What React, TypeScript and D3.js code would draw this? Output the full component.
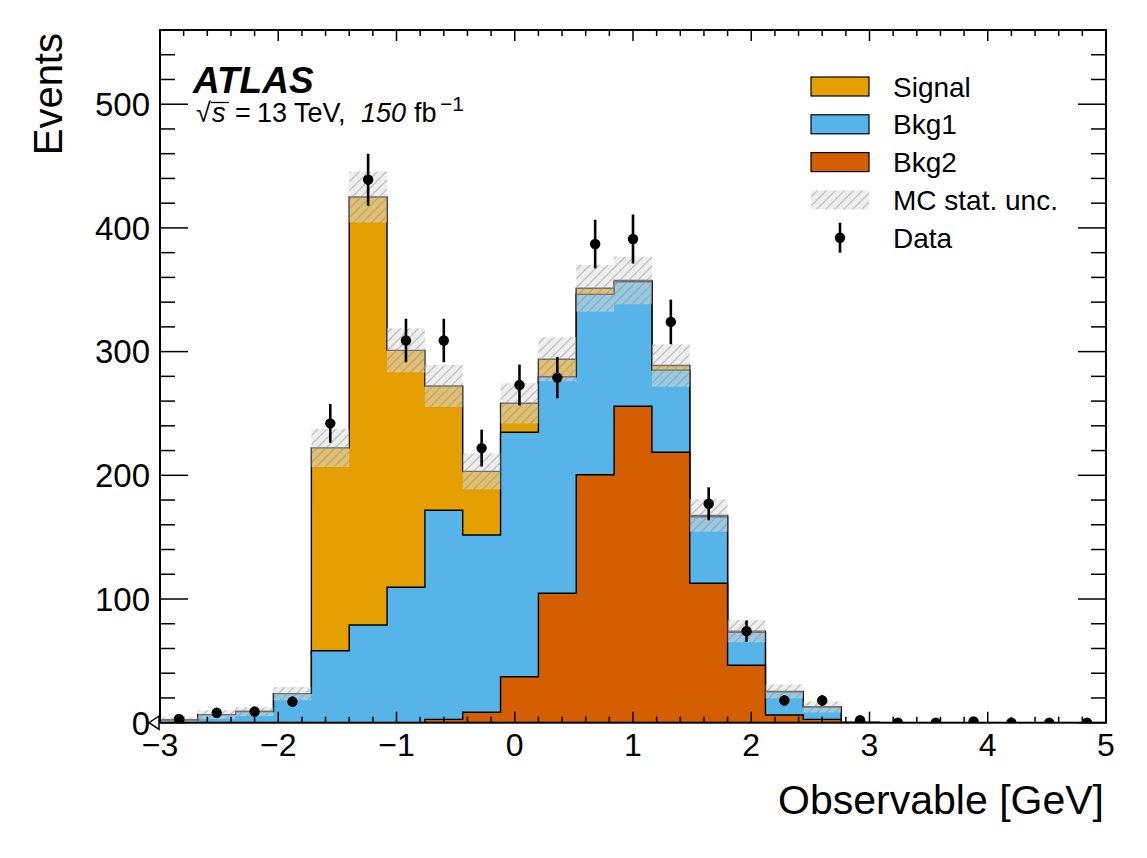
import React from "react";
import * as d3 from "d3";

const binEdges = [-3, -2.68, -2.36, -2.04, -1.72, -1.4, -1.08, -0.76, -0.44, -0.12, 0.2, 0.52, 0.84, 1.16, 1.48, 1.8, 2.12, 2.44, 2.76, 3.08, 3.4, 3.72, 4.04, 4.36, 4.68, 5];
const signal = [0, 0, 0, 0, 164, 346, 191.5, 100.5, 51.5, 23.4, 14.1, 4.9, 1.1, 3.8, 1, 1, 0.3, 0, 0, 0, 0, 0, 0, 0, 0];
const bkg1 = [2.2, 6.5, 9, 23.5, 58.2, 79, 109.5, 169, 143.3, 197.6, 175.1, 145.8, 100.7, 66.4, 53.8, 26.6, 18.8, 10, 0.5, 0, 0, 0, 0, 0, 0];
const bkg2 = [0, 0, 0, 0, 0, 0, 0, 2.7, 8.4, 37.2, 104.6, 200.5, 255.8, 218.6, 112.7, 46.4, 6.2, 2.7, 0, 0, 0, 0, 0, 0, 0];
const mcErr = [2, 3.5, 3.5, 5.3, 15.5, 20.6, 17.9, 17, 14.4, 16.3, 17.8, 19, 19.3, 17.2, 13.1, 9, 5.5, 4.5, 0.8, 0, 0, 0, 0, 0, 0];
const dataVals = [3, 8, 9, 17, 242, 439, 309, 309, 222, 273, 279, 387, 391, 324, 177, 74, 18, 18, 2, 0, 0, 1, 0, 0, 0];
const dataErr = [1.7, 2.8, 3, 4.1, 15.6, 21, 17.6, 17.6, 14.9, 16.5, 16.7, 19.7, 19.8, 18, 13.3, 8.6, 4.2, 4.2, 1.4, 0, 0, 1, 0, 0, 0];

const xMajor = [-3, -2, -1, 0, 1, 2, 3, 4, 5];
const yMajor = [0, 100, 200, 300, 400, 500];

const legendItems = [
  { label: "Signal", kind: "fill", color: "#E69F00" },
  { label: "Bkg1", kind: "fill", color: "#56B4E9" },
  { label: "Bkg2", kind: "fill", color: "#D55E00" },
  { label: "MC stat. unc.", kind: "hatch", color: "" },
  { label: "Data", kind: "data", color: "#000" },
];

const W = 1147, H = 858;
const L = 160, R = 1106, T = 30, B = 722.7;
const FONT = "'Liberation Sans', Arial, Helvetica, sans-serif";

export default function App() {
  const x = d3.scaleLinear().domain([-3, 5]).range([L, R]);
  const y = d3.scaleLinear().domain([0, 560]).range([B, T]);
  const n = signal.length;
  const idx = d3.range(n + 1);
  const val = (arr: number[], i: number) => arr[Math.min(i, n - 1)];

  const cumB2 = bkg2.map((v) => v);
  const cumB1 = bkg2.map((v, i) => v + bkg1[i]);
  const cumTot = cumB1.map((v, i) => v + signal[i]);

  const stepArea = (arr: number[]) =>
    d3.area<number>()
      .x((i) => x(binEdges[i]))
      .y0(y(0))
      .y1((i) => y(val(arr, i)))
      .curve(d3.curveStepAfter)(idx) as string;

  const band = d3.area<number>()
    .x((i) => x(binEdges[i]))
    .y0((i) => y(Math.max(0, val(cumTot, i) - val(mcErr, i))))
    .y1((i) => y(val(cumTot, i) + val(mcErr, i)))
    .curve(d3.curveStepAfter)(idx) as string;

  const xMinor = d3.range(-3, 5.0001, 0.2);
  const yMinor = d3.range(0, 560.1, 20);
  const fmt = d3.format("");
  const centers = d3.range(n).map((i) => (binEdges[i] + binEdges[i + 1]) / 2);

  const legX = 811, legTextX = 893, legY0 = 86.5, legDy = 37.8;

  return (
    <svg width={W} height={H} style={{ position: "absolute", left: 0, top: 0, background: "#fff" }} fontFamily={FONT}>
      <defs>
        <pattern id="hatch" patternUnits="userSpaceOnUse" width={9} height={9}>
          <rect width={9} height={9} fill="rgba(222,222,222,0.5)" />
          <path d="M-2,2 L2,-2 M0,9 L9,0 M7,11 L11,7" stroke="rgba(140,140,140,0.45)" strokeWidth={1.4} />
        </pattern>
        <clipPath id="plotclip">
          <rect x={L} y={T} width={R - L} height={B - T} />
        </clipPath>
      </defs>
      <rect x={0} y={0} width={W} height={H} fill="#fff" />

      <g clipPath="url(#plotclip)">
        <path d={stepArea(cumTot)} fill="#E69F00" stroke="#000" strokeWidth={1.4} />
        <path d={stepArea(cumB1)} fill="#56B4E9" stroke="#000" strokeWidth={1.4} />
        <path d={stepArea(cumB2)} fill="#D55E00" stroke="#000" strokeWidth={1.4} />
        <path d={band} fill="url(#hatch)" stroke="none" />
        {centers.map((c, i) => (
          <g key={i}>
            {dataErr[i] > 0 && (
              <line x1={x(c)} x2={x(c)} y1={y(dataVals[i] - dataErr[i])} y2={y(dataVals[i] + dataErr[i])} stroke="#000" strokeWidth={2.6} />
            )}
            <circle cx={x(c)} cy={y(dataVals[i])} r={5.2} fill="#000" />
          </g>
        ))}
      </g>

      {/* ticks */}
      <g stroke="#000" strokeWidth={1.5}>
        {xMinor.map((v, i) => {
          const isMaj = Math.abs(v - Math.round(v)) < 1e-6;
          const len = isMaj ? 11 : 6;
          return (
            <g key={"xm" + i}>
              <line x1={x(v)} x2={x(v)} y1={B} y2={B - len} />
              <line x1={x(v)} x2={x(v)} y1={T} y2={T + len} />
            </g>
          );
        })}
        {yMinor.map((v, i) => {
          const isMaj = v % 100 === 0;
          const len = isMaj ? 28 : 15;
          return (
            <g key={"ym" + i}>
              <line x1={L} x2={L + len} y1={y(v)} y2={y(v)} />
              <line x1={R} x2={R - len} y1={y(v)} y2={y(v)} />
            </g>
          );
        })}
      </g>
      <rect x={L} y={T} width={R - L} height={B - T} fill="none" stroke="#000" strokeWidth={2} />
      <path d={`M${L - 1},${B - 6.7} L${L - 11},${B} L${L - 1},${B + 6.7} Z`} fill="none" stroke="#000" strokeWidth={1.5} />

      {/* tick labels */}
      {xMajor.map((v) => (
        <text key={"xl" + v} x={x(v)} y={756} textAnchor="middle" fontSize={32}>{fmt(v)}</text>
      ))}
      {yMajor.map((v) => (
        <text key={"yl" + v} x={150} y={y(v)} dy="0.36em" textAnchor="end" fontSize={33}>{fmt(v)}</text>
      ))}

      {/* axis titles */}
      <text x={1104} y={814} textAnchor="end" fontSize={41}>Observable [GeV]</text>
      <text transform="translate(62,33) rotate(-90)" textAnchor="end" fontSize={40}>Events</text>

      {/* ATLAS label */}
      <text x={193} y={93} fontSize={37} fontWeight="bold" fontStyle="italic">ATLAS</text>
      <g fontSize={27}>
        <text x={196} y={122}>√</text>
        <text x={212} y={122} fontStyle="italic">s</text>
        <text x={235} y={122}>=</text>
        <text x={257} y={122}>13 TeV,</text>
        <text x={361} y={122} fontStyle="italic">150</text>
        <text x={414} y={122}>fb</text>
        <text x={440} y={111} fontSize={21}>−1</text>
        <line x1={211} x2={229} y1={102.5} y2={102.5} stroke="#000" strokeWidth={1.3} />
      </g>

      {/* legend */}
      {legendItems.map((it, i) => {
        const cy = legY0 + i * legDy;
        return (
          <g key={it.label}>
            {it.kind === "fill" && (
              <rect x={legX} y={cy - 9.5} width={58} height={19} fill={it.color} stroke="#000" strokeWidth={1.2} />
            )}
            {it.kind === "hatch" && <rect x={legX} y={cy - 9.5} width={58} height={19} fill="url(#hatch)" />}
            {it.kind === "data" && (
              <g>
                <line x1={legX + 29} x2={legX + 29} y1={cy - 15} y2={cy + 15} stroke="#000" strokeWidth={2.6} />
                <circle cx={legX + 29} cy={cy} r={5.2} fill="#000" />
              </g>
            )}
            <text x={legTextX} y={cy} dy="0.36em" fontSize={28}>{it.label}</text>
          </g>
        );
      })}
    </svg>
  );
}
